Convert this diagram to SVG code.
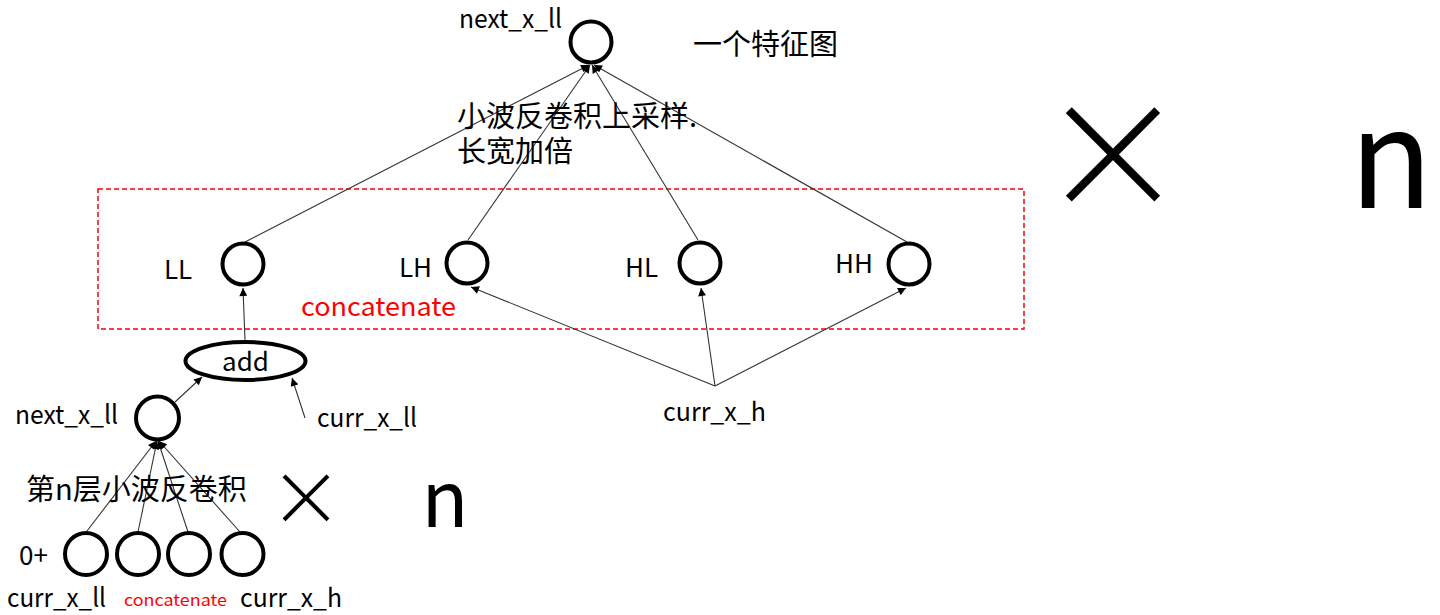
<svg xmlns="http://www.w3.org/2000/svg" width="1440" height="615" viewBox="0 0 1440 615">
<style>
text{font-family:"Noto Sans CJK SC","Noto Sans",sans-serif;fill:#000}
.lbl{font-size:26px}
.cjk{font-size:29px}
.red{fill:#ff0000}
.x{stroke:#fff}
.node{fill:#fff;stroke:#000;stroke-width:4}
.conn line{stroke:#333;stroke-width:1.1;marker-end:url(#ah)}
</style>
<defs>
<marker id="ah" viewBox="0 0 10 10" refX="10" refY="5" markerWidth="9" markerHeight="8" markerUnits="userSpaceOnUse" orient="auto">
<path d="M0,0 L10,5 L0,10 z" fill="#000"/>
</marker>
</defs>
<rect width="1440" height="615" fill="#fff"/>

<rect id="concat-box" x="98" y="189" width="926" height="140" fill="none" stroke="#ff0000" stroke-width="1.5" stroke-dasharray="5,3"/>
<text class="lbl red" x="301" y="316" textLength="155" lengthAdjust="spacingAndGlyphs">concatenate</text>

<g class="conn" id="connectors">
<line x1="245" y1="242" x2="589" y2="65"/>
<line x1="468" y1="240" x2="590" y2="65"/>
<line x1="698" y1="240" x2="592" y2="65"/>
<line x1="907" y1="242" x2="594" y2="65"/>
<line x1="715" y1="386" x2="471" y2="287"/>
<line x1="715" y1="386" x2="701" y2="288"/>
<line x1="715" y1="386" x2="906" y2="288"/>
<line x1="245" y1="340" x2="243" y2="288"/>
<line x1="175" y1="402" x2="202" y2="377"/>
<line x1="305" y1="418" x2="292" y2="378"/>
<line x1="87" y1="531" x2="156" y2="441"/>
<line x1="138" y1="532" x2="157" y2="441"/>
<line x1="188" y1="532" x2="158" y2="441"/>
<line x1="240" y1="532" x2="159" y2="441"/>
</g>

<g id="top">
<circle class="node" cx="591" cy="42" r="20.5"/>
<text class="lbl" x="459" y="28" textLength="103" lengthAdjust="spacingAndGlyphs">next_x_ll</text>
</g>
<text class="cjk" x="693" y="55">一个特征图</text>
<text class="cjk" x="457" y="127">小波反卷积上采样.</text>
<text class="cjk" x="457" y="162">长宽加倍</text>

<g id="LL"><circle class="node" cx="243" cy="264" r="20.5"/><text class="lbl" x="164" y="279">LL</text></g>
<g id="LH"><circle class="node" cx="467" cy="263" r="20.5"/><text class="lbl" x="399" y="277">LH</text></g>
<g id="HL"><circle class="node" cx="700" cy="263" r="20.5"/><text class="lbl" x="625" y="277">HL</text></g>
<g id="HH"><circle class="node" cx="909" cy="264" r="20.5"/><text class="lbl" x="835" y="273">HH</text></g>

<g id="add">
<ellipse class="node" cx="245.5" cy="361" rx="60" ry="19"/>
<text class="lbl" x="245.5" y="371" text-anchor="middle">add</text>
</g>
<text class="lbl" x="317" y="427" textLength="100" lengthAdjust="spacingAndGlyphs">curr_x_ll</text>
<text class="lbl" x="663" y="421" textLength="103" lengthAdjust="spacingAndGlyphs">curr_x_h</text>

<g id="next_x_ll_low">
<circle class="node" cx="157.5" cy="418" r="21.5"/>
<text class="lbl" x="15" y="424" textLength="103" lengthAdjust="spacingAndGlyphs">next_x_ll</text>
</g>
<text class="cjk" x="26" y="500">第n层小波反卷积</text>

<g id="inputs">
<circle class="node" cx="86" cy="554" r="21"/>
<circle class="node" cx="138" cy="554" r="21"/>
<circle class="node" cx="189" cy="554" r="21"/>
<circle class="node" cx="242.5" cy="554" r="21"/>
</g>
<text class="lbl" x="19" y="565">0+</text>
<text class="lbl" x="7" y="607" textLength="99" lengthAdjust="spacingAndGlyphs">curr_x_ll</text>
<text class="red" x="124" y="606" font-size="16" textLength="103" lengthAdjust="spacingAndGlyphs">concatenate</text>
<text class="lbl" x="240" y="607" textLength="102" lengthAdjust="spacingAndGlyphs">curr_x_h</text>

<text class="x" x="306" y="526" font-size="75" text-anchor="middle" stroke-width="1">×</text>
<text x="445" y="527" font-size="77" text-anchor="middle">n</text>
<text class="x" x="1113" y="211" font-size="151" text-anchor="middle" stroke-width="2">×</text>
<text x="1391" y="208" font-size="137" text-anchor="middle">n</text>
</svg>
